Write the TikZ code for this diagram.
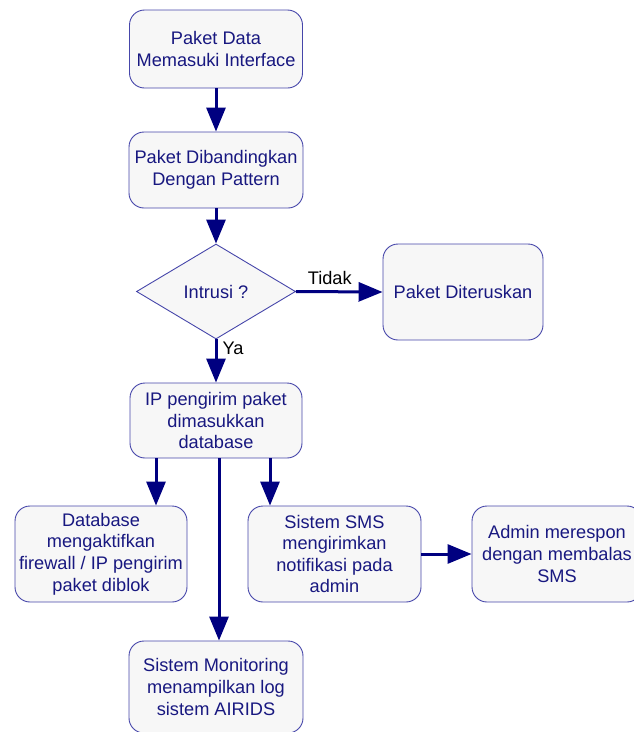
\documentclass[tikz,border=0pt]{standalone}
\usepackage{fontspec}
\setmainfont{Liberation Sans}
\usetikzlibrary{arrows.meta,shapes.geometric}
\definecolor{txtblue}{RGB}{24,24,128}
\definecolor{edgeblue}{RGB}{70,70,170}
\definecolor{arrblue}{RGB}{0,0,128}
\definecolor{boxfill}{RGB}{247,247,247}
\tikzset{
  box/.style={draw=edgeblue, line width=0.9pt, fill=boxfill, rounded corners=15pt,
    align=center, text=txtblue, inner sep=0pt,
    font=\fontsize{18.2}{21.6}\selectfont},
  dec/.style={draw=edgeblue, line width=0.9pt, fill=boxfill, shape=diamond,
    align=center, text=txtblue, inner sep=0pt,
    font=\fontsize{18.2}{21.6}\selectfont},
  arr/.style={draw=arrblue, line width=3pt, -{Triangle[length=24pt,width=19pt]}},
  lbl/.style={text=black, inner sep=0pt, font=\fontsize{18.2}{21.6}\selectfont}
}
\begin{document}
\begin{tikzpicture}[x=1pt,y=-1pt]
\useasboundingbox (0,0) rectangle (634,732);
\clip (0,0) rectangle (634,732);
\node[box, minimum width=173pt, minimum height=78pt] (b1) at (216,49) {Paket Data\\Memasuki Interface};
\node[box, minimum width=174pt, minimum height=76pt] (b2) at (216,170) {Paket Dibandingkan\\Dengan Pattern};
\node[dec, minimum width=159pt, minimum height=95pt] (d) at (216,291.5) {Intrusi ?};
\node[box, minimum width=160pt, minimum height=96pt] (dit) at (463,292) {Paket Diteruskan};
\node[box, minimum width=172pt, minimum height=75pt] (ip) at (216,420.5) {IP pengirim paket\\dimasukkan\\database};
\node[box, minimum width=172pt, minimum height=96pt] (db) at (101,554) {Database\\mengaktifkan\\firewall / IP pengirim\\paket diblok};
\node[box, minimum width=173pt, minimum height=96pt] (sms) at (334.5,554) {Sistem SMS\\mengirimkan\\notifikasi pada\\admin};
\node[box, minimum width=170pt, minimum height=96pt] (adm) at (557,554) {Admin merespon\\dengan membalas\\SMS};
\node[box, minimum width=174pt, minimum height=92pt] (mon) at (216,687) {Sistem Monitoring\\menampilkan log\\sistem AIRIDS};

\draw[arr] (b1) -- (b2);
\draw[arr] (b2) -- (d.north);
\draw[arr] (d.east) -- (dit.west) node[lbl, pos=0.39, above=6pt] {Tidak};
\draw[arr] (d.south) -- (ip.north) node[lbl, pos=0.2, right=5pt] {Ya};
\draw[arr] ([xshift=-60pt]ip.south) -- ([xshift=-60pt]ip.south |- db.north);
\draw[arr] ([xshift=3pt]ip.south) -- ([xshift=3pt]ip.south |- mon.north);
\draw[arr] ([xshift=54pt]ip.south) -- ([xshift=54pt]ip.south |- sms.north);
\draw[arr] (sms.east) -- (adm.west);
\end{tikzpicture}
\end{document}
